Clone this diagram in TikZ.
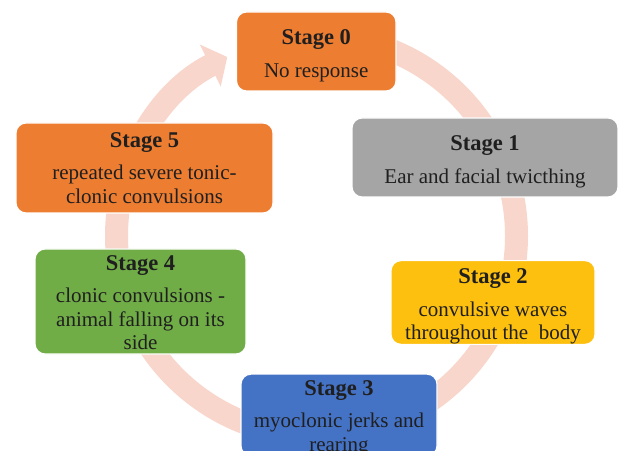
\documentclass[tikz,border=0pt]{standalone}
\usepackage{fontspec}
\setmainfont{Liberation Serif}
\usetikzlibrary{arrows.meta}
\definecolor{ringpink}{RGB}{248,214,203}
\definecolor{orangeA}{RGB}{237,125,49}
\definecolor{grayA}{RGB}{165,165,165}
\definecolor{goldA}{RGB}{253,192,14}
\definecolor{blueA}{RGB}{68,114,196}
\definecolor{greenA}{RGB}{112,173,71}
% optional argument: extra room above the title (pushes the text down by half of it)
\newcommand{\stagetitle}[2][0pt]{{\fontsize{22.5}{24}\selectfont\bfseries\rule{0pt}{\dimexpr15.2pt+#1\relax}#2}\\[9pt]}
\begin{document}
\begin{tikzpicture}[x=1pt,y=1pt]
        \tikzset{stagebox/.style={draw=white, line width=1.2pt, rounded corners=10pt,
            align=center, text=black!88, inner sep=0pt,
            font=\fontsize{21}{23.5}\selectfont}}
        \clip (0,0) rectangle (618,450);
        \coordinate (O) at (316.5,214);
        % ring behind the stages
        \draw[ringpink, line width=23pt, -{Triangle[width=46pt,length=19pt]}]
            (O) ++(90:200) arc[start angle=90, end angle=-243.5, radius=200];
        % stages
        \node[stagebox, fill=orangeA, minimum width=159.5pt, minimum height=79pt] (s0) at (316.25,398.5)
            {\stagetitle[8pt]{Stage 0}No response};
        \node[stagebox, fill=grayA, minimum width=266pt, minimum height=79pt] (s1) at (485,292.5)
            {\stagetitle[8pt]{Stage 1}Ear and facial twicthing};
        \node[stagebox, fill=goldA, minimum width=204pt, minimum height=79pt] (s2) at (493,147.5)
            {\stagetitle[8pt]{Stage 2}convulsive waves\\throughout the\ \ body};
        \node[stagebox, fill=blueA, minimum width=196pt, minimum height=80pt] (s3) at (339,35)
            {\stagetitle[6pt]{Stage 3}myoclonic jerks and\\rearing};
        \node[stagebox, fill=greenA, minimum width=211pt, minimum height=105pt] (s4) at (140.5,148.5)
            {\stagetitle[2pt]{Stage 4}clonic convulsions -\\animal falling on its\\side};
        \node[stagebox, fill=orangeA, minimum width=257pt, minimum height=90pt] (s5) at (144.5,282)
            {\stagetitle{Stage 5}repeated severe tonic-\\clonic convulsions};
    \end{tikzpicture}
\end{document}
